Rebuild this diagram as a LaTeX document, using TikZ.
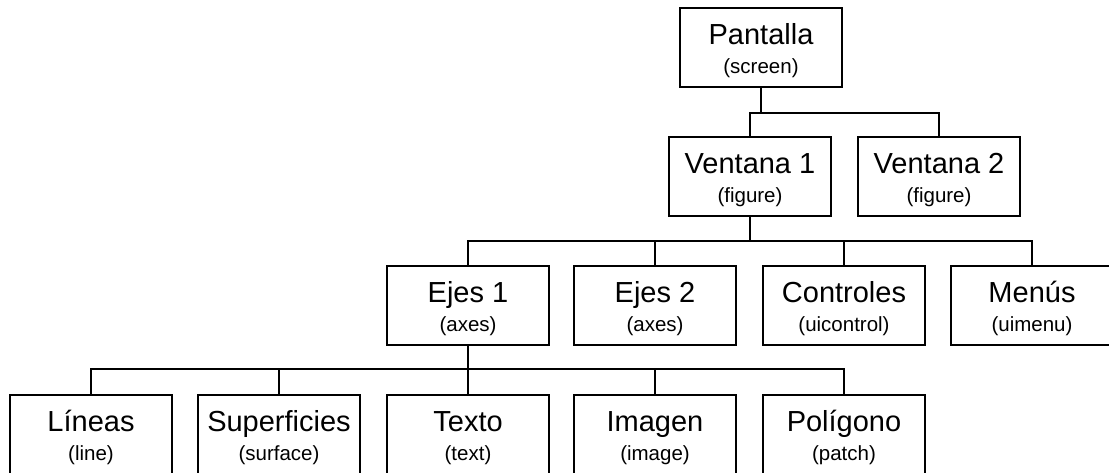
\documentclass[tikz,border=0pt]{standalone}
\usepackage{fontspec}
\setmainfont{Liberation Sans}
\tikzset{
  caja/.style={draw, line width=2pt, minimum width=162pt, minimum height=79pt,
    inner sep=2pt, align=center, font=\fontsize{29}{29}\selectfont,
    execute at begin node=\rule{0pt}{57pt},
    execute at end node=\rule[-4pt]{0pt}{4pt}},
  rama/.style={line width=2pt}
}
\newcommand{\subtxt}[1]{{\fontsize{20.5}{29}\selectfont #1}}

\begin{document}
\begin{tikzpicture}[x=1pt, y=-1pt]
\useasboundingbox (0,0) rectangle (1109,472);
% niveles
\node[caja] (pant) at (761,47.5) {Pantalla\\\subtxt{(screen)}};
\node[caja] (ven1) at (750,176.5) {Ventana 1\\\subtxt{(figure)}};
\node[caja] (ven2) at (939,176.5) {Ventana 2\\\subtxt{(figure)}};
\node[caja] (ejes1) at (468,305.5) {Ejes 1\\\subtxt{(axes)}};
\node[caja] (ejes2) at (655,305.5) {Ejes 2\\\subtxt{(axes)}};
\node[caja] (contr) at (844,305.5) {Controles\\\subtxt{(uicontrol)}};
\node[caja] (menus) at (1032,305.5) {Menús\\\subtxt{(uimenu)}};
\node[caja] (lin) at (91,434.5) {Líneas\\\subtxt{(line)}};
\node[caja] (sup) at (279,434.5) {Superficies\\\subtxt{(surface)}};
\node[caja] (tex) at (468,434.5) {Texto\\\subtxt{(text)}};
\node[caja] (ima) at (655,434.5) {Imagen\\\subtxt{(image)}};
\node[caja] (pol) at (844,434.5) {Polígono\\\subtxt{(patch)}};
% ramas
\coordinate (j1) at (761,113);
\coordinate (j2) at (750,241);
\coordinate (j3) at (468,369);
\draw[rama] (pant.south) -- (j1);
\draw[rama] (ven1.north) |- (j1) -| (ven2.north);
\draw[rama] (ven1.south) -- (j2);
\draw[rama] (ejes1.north) |- (j2) -| (menus.north);
\draw[rama] (ejes2.north) -- (ejes2.north |- j2);
\draw[rama] (contr.north) -- (contr.north |- j2);
\draw[rama] (ejes1.south) -- (j3);
\draw[rama] (lin.north) |- (j3) -| (pol.north);
\draw[rama] (sup.north) -- (sup.north |- j3);
\draw[rama] (tex.north) -- (tex.north |- j3);
\draw[rama] (ima.north) -- (ima.north |- j3);
\end{tikzpicture}
\end{document}
